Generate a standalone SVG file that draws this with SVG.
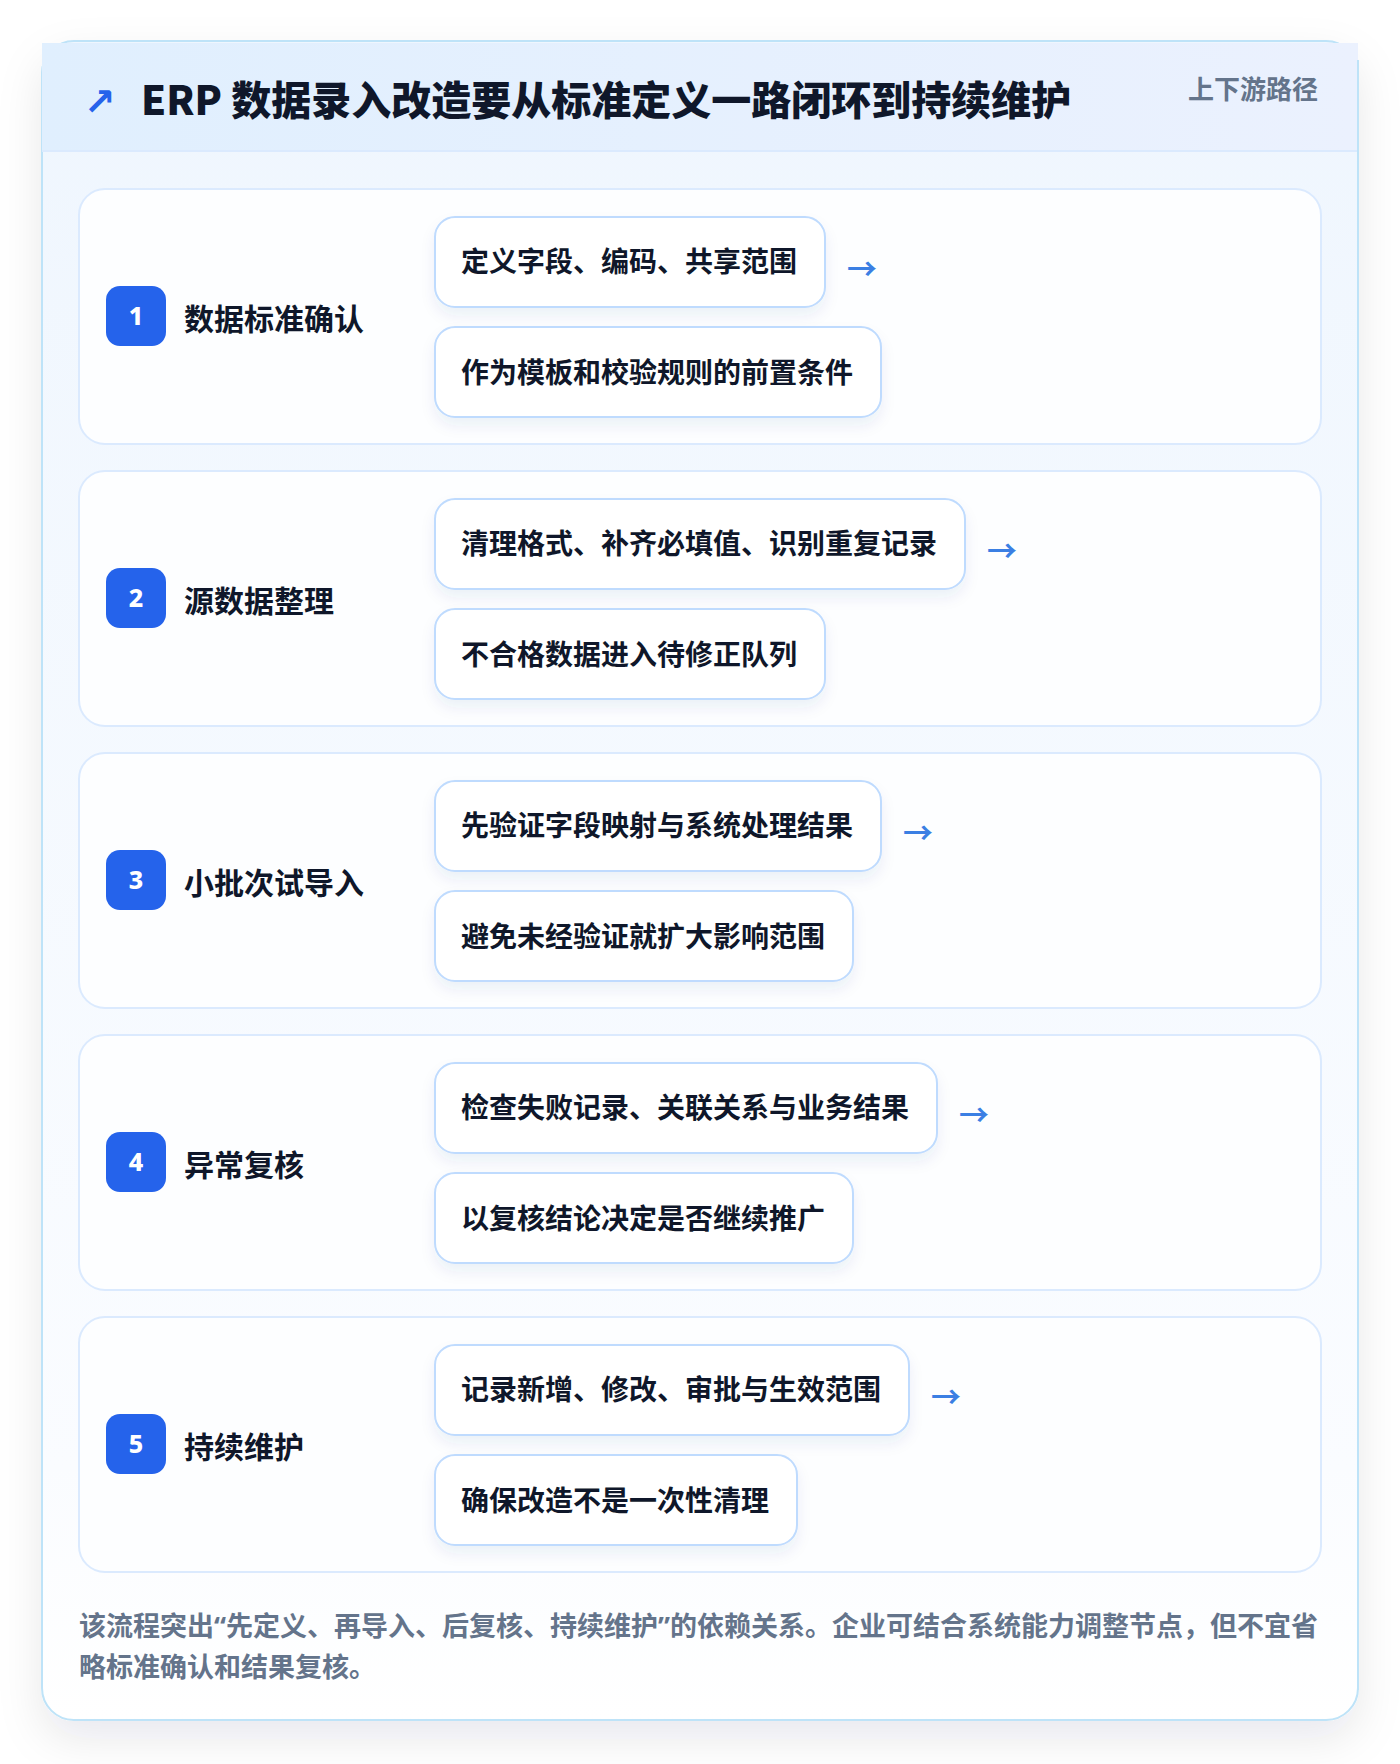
<svg xmlns="http://www.w3.org/2000/svg" width="1400" height="1764" viewBox="0 0 1400 1764">
<defs>
<linearGradient id="hdr" x1="0" y1="0" x2="1" y2="0"><stop offset="0" stop-color="#e0effe"/><stop offset="1" stop-color="#ebf1fe"/></linearGradient>
<linearGradient id="body" x1="0" y1="0" x2="0" y2="1"><stop offset="0" stop-color="#eff6fe"/><stop offset="0.85" stop-color="#fafcff"/><stop offset="1" stop-color="#ffffff"/></linearGradient>
<filter id="outerShadow" x="-10%" y="-10%" width="120%" height="120%"><feDropShadow dx="0" dy="18" stdDeviation="22" flood-color="#0f172a" flood-opacity="0.09"/></filter>
<filter id="boxShadow" x="-10%" y="-20%" width="120%" height="160%"><feDropShadow dx="0" dy="8" stdDeviation="7" flood-color="#1e3a8a" flood-opacity="0.07"/></filter>
<style>
.card{fill:#fdfeff;stroke:#dbeafe;stroke-width:2}
.box{fill:#ffffff;stroke:#bfdbfe;stroke-width:2;filter:url(#boxShadow)}
.badge{fill:#2563eb}
.num{font-family:"Noto Sans","Noto Sans CJK SC",sans-serif;font-weight:800;font-size:25px;fill:#ffffff;text-anchor:middle}
.stitle{font-family:"Noto Sans CJK SC","Noto Sans",sans-serif;font-weight:700;font-size:30px;fill:#0f172a}
.btext{font-family:"Noto Sans CJK SC","Noto Sans",sans-serif;font-weight:700;font-size:28px;fill:#0f172a}
.arr{font-family:"Noto Sans CJK SC","DejaVu Sans",sans-serif;font-weight:700;font-size:30px;fill:#3b7fe3}
.foot{font-family:"Noto Sans CJK SC","Noto Sans",sans-serif;font-weight:700;font-size:27px;fill:#64748b}
.q{font-family:"Noto Sans","Liberation Sans",sans-serif}
</style>
</defs>
<rect width="1400" height="1764" fill="#ffffff"/>
<g id="frame">
<rect x="42" y="41" width="1316" height="1679" rx="32" fill="url(#body)" stroke="#bee3f8" stroke-width="2" filter="url(#outerShadow)"/>
<rect x="42" y="43" width="1316" height="108" fill="url(#hdr)"/>
<line x1="42" y1="151" x2="1358" y2="151" stroke="#dbeafe" stroke-width="2"/>
<line x1="1358" y1="60" x2="1358" y2="1690" stroke="#bee3f8" stroke-width="2"/>
<text x="84" y="115" font-family="DejaVu Sans,sans-serif" font-weight="700" font-size="38" fill="#2563eb">↗</text>
<text x="141" y="115" font-family="Noto Sans CJK SC,Noto Sans,sans-serif" font-weight="900" font-size="40" fill="#0f172a">ERP 数据录入改造要从标准定义一路闭环到持续维护</text>
<text x="1318" y="99" text-anchor="end" font-family="Noto Sans CJK SC,Noto Sans,sans-serif" font-weight="700" font-size="26" fill="#64748b">上下游路径</text>
</g>
<g id="step1">
<rect class="card" x="79" y="189" width="1242" height="255" rx="26"/>
<rect class="badge" x="106" y="286" width="60" height="60" rx="14"/>
<text class="num" x="136" y="325">1</text>
<text class="stitle" x="184" y="330">数据标准确认</text>
<rect class="box" x="435" y="217" width="390" height="90" rx="20"/>
<text class="btext" x="461" y="272">定义字段、编码、共享范围</text>
<rect class="box" x="435" y="327" width="446" height="90" rx="20"/>
<text class="btext" x="461" y="383">作为模板和校验规则的前置条件</text>
</g>
<g id="step2">
<rect class="card" x="79" y="471" width="1242" height="255" rx="26"/>
<rect class="badge" x="106" y="568" width="60" height="60" rx="14"/>
<text class="num" x="136" y="607">2</text>
<text class="stitle" x="184" y="612">源数据整理</text>
<rect class="box" x="435" y="499" width="530" height="90" rx="20"/>
<text class="btext" x="461" y="554">清理格式、补齐必填值、识别重复记录</text>
<rect class="box" x="435" y="609" width="390" height="90" rx="20"/>
<text class="btext" x="461" y="665">不合格数据进入待修正队列</text>
</g>
<g id="step3">
<rect class="card" x="79" y="753" width="1242" height="255" rx="26"/>
<rect class="badge" x="106" y="850" width="60" height="60" rx="14"/>
<text class="num" x="136" y="889">3</text>
<text class="stitle" x="184" y="894">小批次试导入</text>
<rect class="box" x="435" y="781" width="446" height="90" rx="20"/>
<text class="btext" x="461" y="836">先验证字段映射与系统处理结果</text>
<rect class="box" x="435" y="891" width="418" height="90" rx="20"/>
<text class="btext" x="461" y="947">避免未经验证就扩大影响范围</text>
</g>
<g id="step4">
<rect class="card" x="79" y="1035" width="1242" height="255" rx="26"/>
<rect class="badge" x="106" y="1132" width="60" height="60" rx="14"/>
<text class="num" x="136" y="1171">4</text>
<text class="stitle" x="184" y="1176">异常复核</text>
<rect class="box" x="435" y="1063" width="502" height="90" rx="20"/>
<text class="btext" x="461" y="1118">检查失败记录、关联关系与业务结果</text>
<rect class="box" x="435" y="1173" width="418" height="90" rx="20"/>
<text class="btext" x="461" y="1229">以复核结论决定是否继续推广</text>
</g>
<g id="step5">
<rect class="card" x="79" y="1317" width="1242" height="255" rx="26"/>
<rect class="badge" x="106" y="1414" width="60" height="60" rx="14"/>
<text class="num" x="136" y="1453">5</text>
<text class="stitle" x="184" y="1458">持续维护</text>
<rect class="box" x="435" y="1345" width="474" height="90" rx="20"/>
<text class="btext" x="461" y="1400">记录新增、修改、审批与生效范围</text>
<rect class="box" x="435" y="1455" width="362" height="90" rx="20"/>
<text class="btext" x="461" y="1511">确保改造不是一次性清理</text>
</g>
<g id="connectors">
<text class="arr" x="847" y="280">→</text>
<text class="arr" x="987" y="562">→</text>
<text class="arr" x="903" y="844">→</text>
<text class="arr" x="959" y="1126">→</text>
<text class="arr" x="931" y="1408">→</text>
</g>
<g id="footer">
<text class="foot" x="79" y="1636">该流程突出<tspan class="q">“</tspan>先定义、再导入、后复核、持续维护<tspan class="q">”</tspan>的依赖关系。企业可结合系统能力调整节点，但不宜省</text>
<text class="foot" x="79" y="1677">略标准确认和结果复核。</text>
</g>
</svg>
